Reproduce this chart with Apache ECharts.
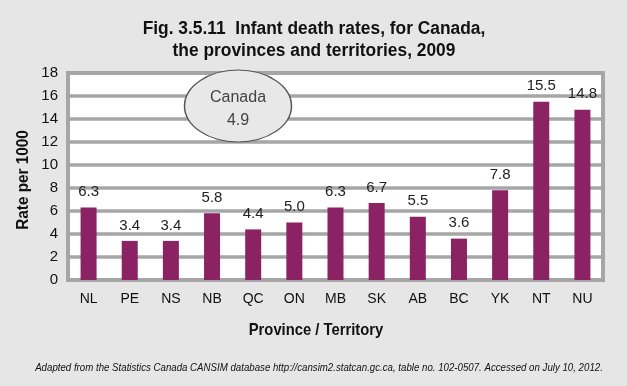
<!DOCTYPE html>
<html><head><meta charset="utf-8">
<script src="https://cdn.jsdelivr.net/npm/echarts@6/dist/echarts.min.js"></script>
<style>html,body{margin:0;padding:0;background:#e6e6e6;}#c{width:627px;height:386px;}</style>
</head><body><div id="c"></div>
<script>
const categories = ['NL','PE','NS','NB','QC','ON','MB','SK','AB','BC','YK','NT','NU'];
const rates = [6.3,3.4,3.4,5.8,4.4,5.0,6.3,6.7,5.5,3.6,7.8,15.5,14.8];
const canadaRate = 4.9;
const yTicks = {min:0, max:18, interval:2};
const titleLines = ['Fig. 3.5.11  Infant death rates, for Canada,', 'the provinces and territories, 2009'];
const xAxisTitle = 'Province / Territory';
const yAxisTitle = 'Rate per 1000';
const sourceNote = 'Adapted from the Statistics Canada CANSIM database http://cansim2.statcan.gc.ca, table no. 102-0507. Accessed on July 10, 2012.';

const chart = echarts.init(document.getElementById('c'));
const sans = '"Liberation Sans", Arial, sans-serif';
chart.setOption({
  backgroundColor: '#e6e6e6',
  animation: false,
  grid: {left: 68, right: 24, top: 73, bottom: 106, show: true, backgroundColor: '#fff', borderColor: '#a6a6a6', borderWidth: 4},
  xAxis: {
    type: 'category', data: categories,
    axisLine: {show: true, lineStyle: {color: '#a6a6a6', width: 4}},
    axisTick: {show: false},
    axisLabel: {fontFamily: sans, fontSize: 14, color: '#111', margin: 12}
  },
  yAxis: {
    type: 'value', min: yTicks.min, max: yTicks.max, interval: yTicks.interval,
    axisLine: {show: false}, axisTick: {show: false},
    axisLabel: {fontFamily: sans, fontSize: 15, color: '#111', margin: 10},
    splitLine: {show: true, lineStyle: {color: '#a6a6a6', width: 3.5}}
  },
  series: [{
    type: 'bar', data: rates, barWidth: 16,
    itemStyle: {color: '#8b2263'},
    label: {show: true, position: 'top', distance: 8, fontFamily: sans, fontSize: 15, color: '#222', formatter: p => p.value.toFixed(1)}
  }],
  graphic: [
    {type: 'text', x: 314, y: 38, scaleX: 0.965, style: {text: titleLines[0], fill: '#111', font: 'bold 18px ' + sans, textAlign: 'center', textVerticalAlign: 'bottom'}},
    {type: 'text', x: 314, y: 60, scaleX: 0.965, style: {text: titleLines[1], fill: '#111', font: 'bold 18px ' + sans, textAlign: 'center', textVerticalAlign: 'bottom'}},
    {type: 'text', x: 316, y: 330, scaleX: 0.87, style: {text: xAxisTitle, fill: '#111', font: 'bold 17px ' + sans, textAlign: 'center', textVerticalAlign: 'middle'}},
    {type: 'text', x: 23, y: 180, rotation: Math.PI / 2, scaleX: 0.9, style: {text: yAxisTitle, fill: '#111', font: 'bold 17px ' + sans, textAlign: 'center', textVerticalAlign: 'middle'}},
    {type: 'circle', shape: {cx: 0, cy: 0, r: 36}, x: 238, y: 106, scaleX: 53.5/36, scaleY: 1,
     style: {fill: '#e8e8e8', stroke: '#555', lineWidth: 1, strokeNoScale: true}, z: 100},
    {type: 'text', x: 238, y: 109, z: 101,
     style: {text: 'Canada\n' + canadaRate.toFixed(1), fill: '#444', font: '16px ' + sans, textAlign: 'center', textVerticalAlign: 'middle', lineHeight: 23}},
    {type: 'text', x: 319, y: 368, scaleX: 0.88, style: {text: sourceNote, fill: '#111', font: 'italic 11px ' + sans, textAlign: 'center', textVerticalAlign: 'middle'}}
  ]
});
</script></body></html>
